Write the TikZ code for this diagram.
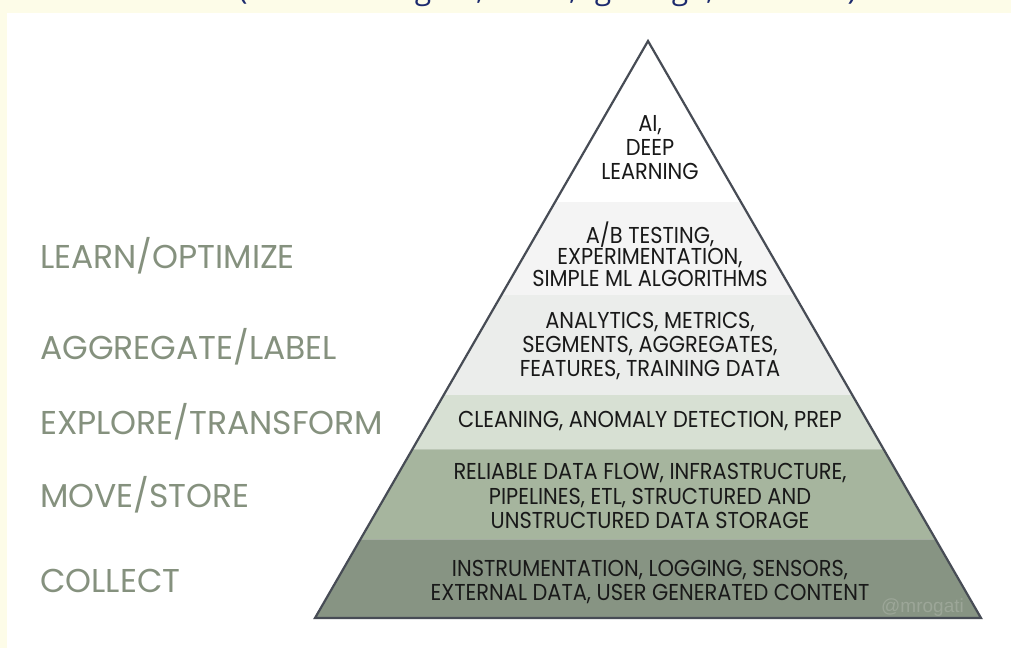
\documentclass[tikz,border=0pt]{standalone}
\usepackage{fontspec}
\newfontfamily\geofont{Poppins}
\newfontfamily\pyrfont[FakeStretch=0.91]{Poppins}
\newfontfamily\markfont{Liberation Sans}
\newfontfamily\headfont{Open Sans}

\definecolor{cream}{HTML}{FDFCE8}
\definecolor{labelgreen}{HTML}{85917E}
\definecolor{edgegray}{HTML}{474C55}
\definecolor{bandA}{HTML}{F4F4F4}
\definecolor{bandB}{HTML}{EBEDEB}
\definecolor{bandC}{HTML}{D7E0D3}
\definecolor{bandD}{HTML}{A6B59E}
\definecolor{bandE}{HTML}{879483}
\definecolor{navy}{HTML}{1C2A6E}
\definecolor{watermark}{HTML}{9CA698}

\tikzset{
  stage/.style={anchor=base west, inner sep=0pt, text=labelgreen,
    font=\geofont\fontsize{33}{36}\selectfont},
  tier/.style={inner sep=0pt, align=center, text=black!90,
    font=\pyrfont\fontsize{23}{#1}\selectfont},
  tier/.default=24,
  head/.style={anchor=base, inner sep=0pt, text=navy,
    font=\headfont\fontsize{30}{34}\selectfont},
  seam/.style={line width=1pt, white, opacity=0.25},
}

\begin{document}
\begin{tikzpicture}[x=1pt,y=-1pt]
\useasboundingbox (0,0) rectangle (1011,648);
\fill[cream] (0,0) rectangle (1011,648);
\fill[white] (7,13) rectangle (1011,648);

% bottom edge of the heading line above
\begin{scope}
  \clip (0,0) rectangle (1011,13);
  \foreach \x/\c [count=\i] in {243/(, 423/g, 480/{,}, 573/{,}, 603/g, 680/g, 710/{,}, 852/)}
    \node[head] (h\i) at (\x,-1) {\c};
\end{scope}

% pyramid
\coordinate (apex) at (648,41);
\coordinate (bl) at (315,618);
\coordinate (br) at (981,618);
\begin{scope}
  \clip (apex) -- (br) -- (bl) -- cycle;
  \fill[white] (300,30) rectangle (1000,202);
  \fill[bandA] (300,202) rectangle (1000,295);
  \fill[bandB] (300,295) rectangle (1000,395);
  \fill[bandC] (300,395) rectangle (1000,449);
  \fill[bandD] (300,449) rectangle (1000,539);
  \fill[bandE] (300,539) rectangle (1000,622);
  \draw[seam] (300,449) -- (1000,449);
  \draw[seam] (300,539) -- (1000,539);
\end{scope}
\draw[edgegray, line width=2.2pt] (apex) -- (br) -- (bl) -- cycle;

% tier texts
\node[tier] (t1) at (650,148) {AI,\\DEEP\\LEARNING};
\node[tier=21.7] (t2) at (650,254) {A/B TESTING,\\EXPERIMENTATION,\\SIMPLE ML ALGORITHMS};
\node[tier] (t3) at (650,346) {ANALYTICS, METRICS,\\SEGMENTS, AGGREGATES,\\FEATURES, TRAINING DATA};
\node[tier] (t4) at (650,421) {CLEANING, ANOMALY DETECTION, PREP};
\node[tier=24.5] (t5) at (650,496) {RELIABLE DATA FLOW, INFRASTRUCTURE,\\PIPELINES, ETL, STRUCTURED AND\\UNSTRUCTURED DATA STORAGE};
\node[tier=23.5] (t6) at (650,582) {INSTRUMENTATION, LOGGING, SENSORS,\\EXTERNAL DATA, USER GENERATED CONTENT};
\node[anchor=base west, inner sep=0pt, text=watermark,
  font=\markfont\fontsize{19}{22}\selectfont] (mark) at (881,612) {@mrogati};

% stage labels
\node[stage] (s1) at (40,268) {LEARN/OPTIMIZE};
\node[stage] (s2) at (40,359) {AGGREGATE/LABEL};
\node[stage] (s3) at (40,434) {EXPLORE/TRANSFORM};
\node[stage] (s4) at (40,507.5) {MOVE/STORE};
\node[stage] (s5) at (40,592.5) {COLLECT};
\end{tikzpicture}
\end{document}
